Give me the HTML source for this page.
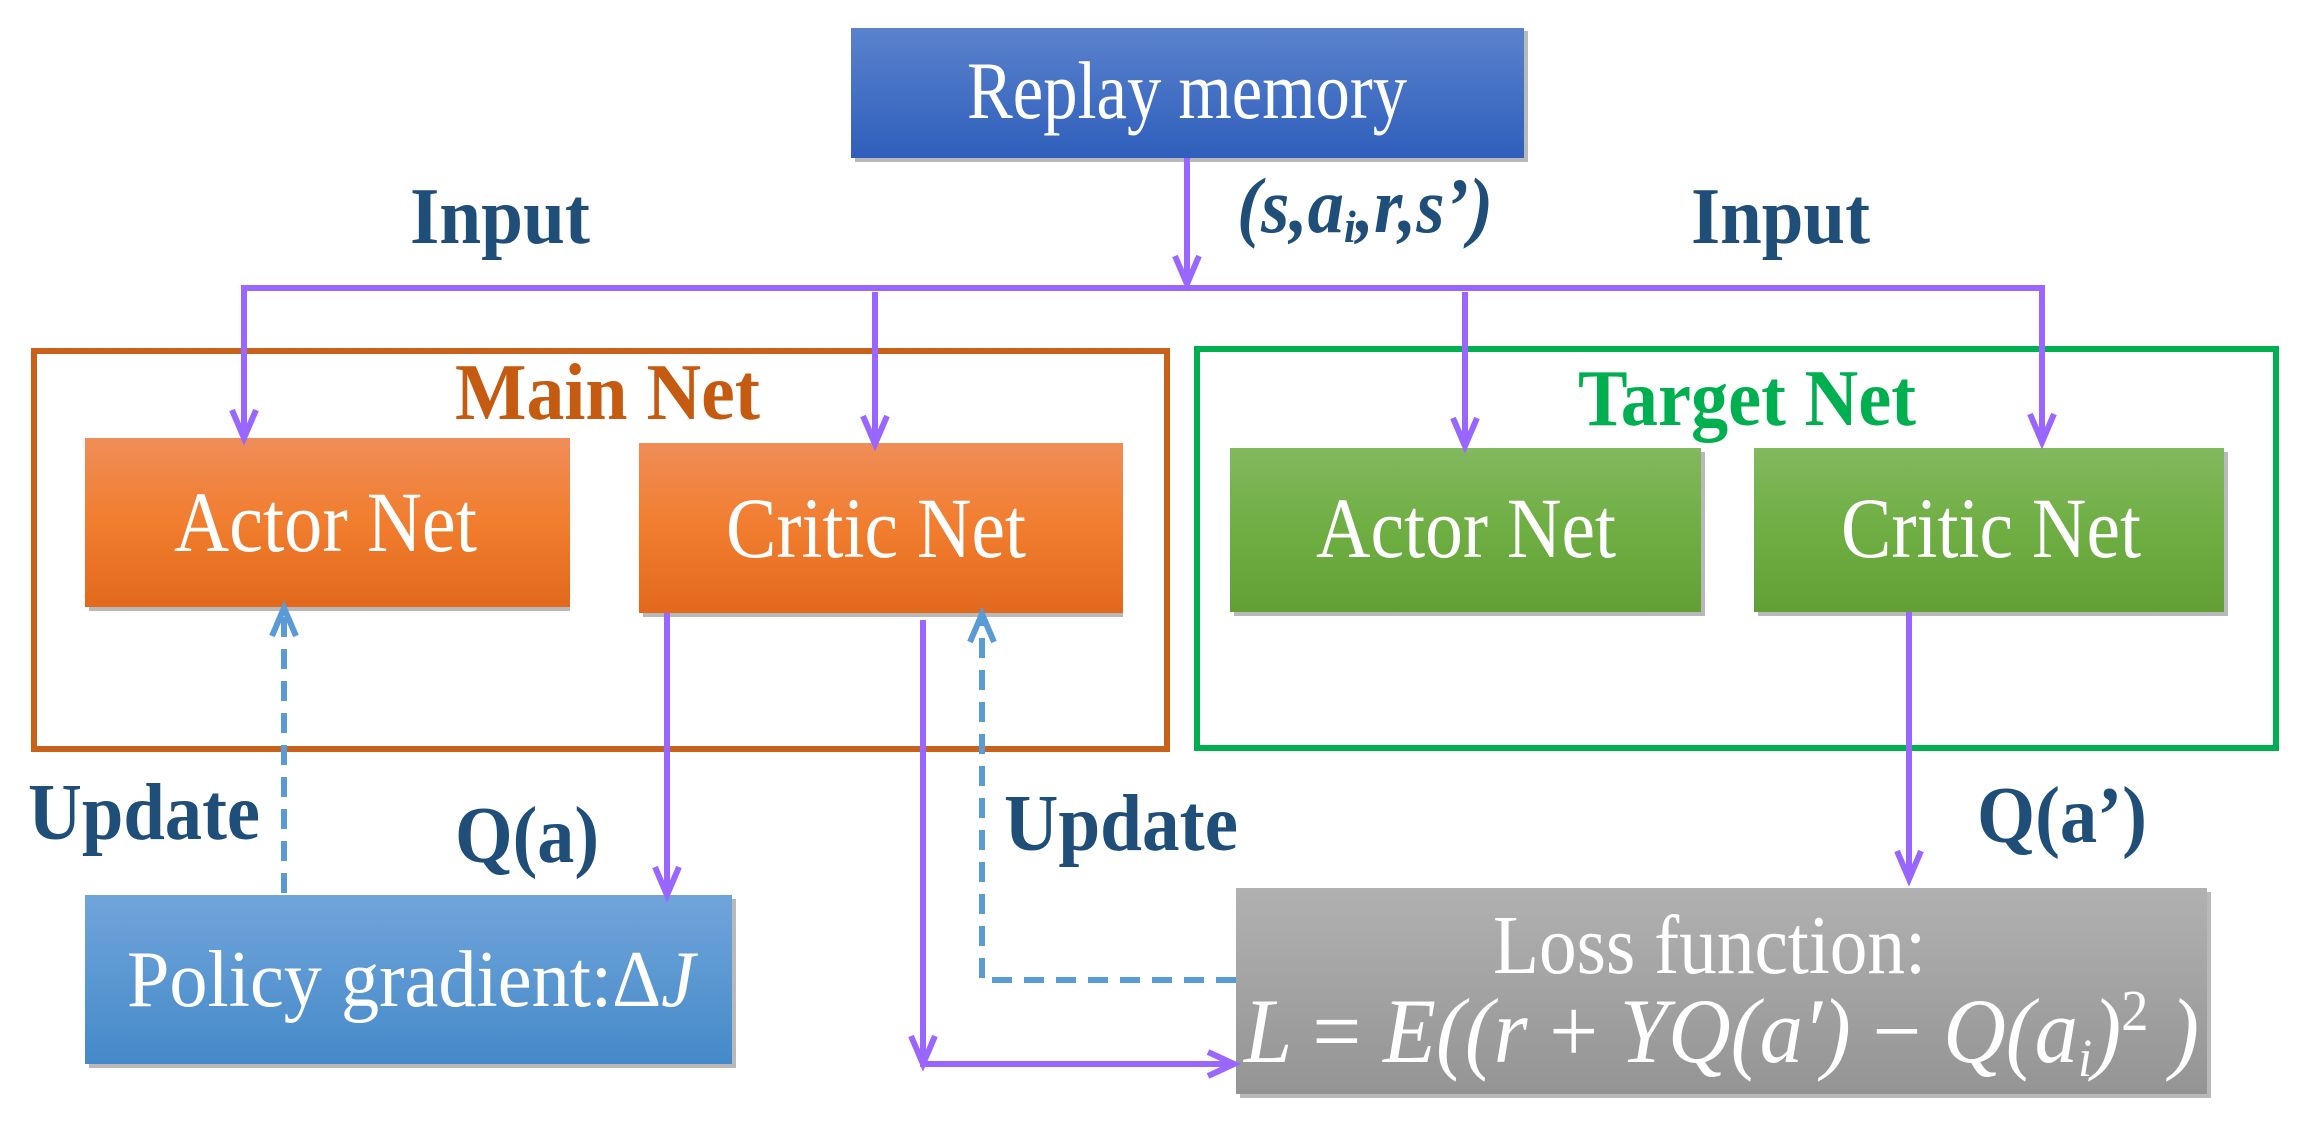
<!DOCTYPE html>
<html><head><meta charset="utf-8"><style>
html,body{margin:0;padding:0;background:#fff;}
svg{display:block;}
text{font-family:"Liberation Serif",serif;}
</style></head><body>
<svg width="2319" height="1128" viewBox="0 0 2319 1128" xmlns="http://www.w3.org/2000/svg">
<defs>
<linearGradient id="gb" x1="0" y1="0" x2="0" y2="1"><stop offset="0" stop-color="#5a82cd"/><stop offset="1" stop-color="#2f5fbb"/></linearGradient>
<linearGradient id="go" x1="0" y1="0" x2="0" y2="1"><stop offset="0" stop-color="#f08d58"/><stop offset="0.5" stop-color="#f17d2e"/><stop offset="1" stop-color="#e2691c"/></linearGradient>
<linearGradient id="gg" x1="0" y1="0" x2="0" y2="1"><stop offset="0" stop-color="#83b85f"/><stop offset="0.5" stop-color="#6eae42"/><stop offset="1" stop-color="#62a036"/></linearGradient>
<linearGradient id="gp" x1="0" y1="0" x2="0" y2="1"><stop offset="0" stop-color="#70a5da"/><stop offset="1" stop-color="#4589c9"/></linearGradient>
<linearGradient id="gl" x1="0" y1="0" x2="0" y2="1"><stop offset="0" stop-color="#b1b1b1"/><stop offset="1" stop-color="#949494"/></linearGradient>
</defs>
<g fill="#8a8a8a" opacity="0.6">
<rect x="855" y="31" width="673" height="131"/>
<rect x="89" y="442" width="481" height="169"/>
<rect x="643" y="447" width="480" height="170"/>
<rect x="1234" y="452" width="471" height="164"/>
<rect x="1758" y="452" width="470" height="164"/>
<rect x="89" y="899" width="647" height="169"/>
<rect x="1240" y="892" width="971" height="206"/>
</g>
<rect x="851" y="28" width="673" height="130" fill="url(#gb)"/>
<text x="1187" y="118" font-size="82" fill="#fff" text-anchor="middle" textLength="440" lengthAdjust="spacingAndGlyphs">Replay memory</text>

<rect x="34" y="351" width="1133" height="398" fill="none" stroke="#c8611a" stroke-width="6"/>
<rect x="1197" y="349" width="1079" height="399" fill="none" stroke="#00b050" stroke-width="6"/>

<rect x="85" y="438" width="485" height="169" fill="url(#go)"/>
<rect x="639" y="443" width="484" height="170" fill="url(#go)"/>
<rect x="1230" y="448" width="471" height="164" fill="url(#gg)"/>
<rect x="1754" y="448" width="470" height="164" fill="url(#gg)"/>
<rect x="85" y="895" width="647" height="169" fill="url(#gp)"/>
<rect x="1236" y="888" width="971" height="206" fill="url(#gl)"/>

<g fill="#fff" font-size="86">
<text x="174" y="551" textLength="303" lengthAdjust="spacingAndGlyphs">Actor Net</text>
<text x="726" y="557" textLength="300" lengthAdjust="spacingAndGlyphs">Critic Net</text>
<text x="1316" y="557" textLength="300" lengthAdjust="spacingAndGlyphs">Actor Net</text>
<text x="1841" y="557" textLength="300" lengthAdjust="spacingAndGlyphs">Critic Net</text>
<text x="127" y="1006" font-size="80" textLength="568" lengthAdjust="spacingAndGlyphs">Policy gradient:Δ<tspan font-style="italic">J</tspan></text>
<text x="1493" y="973" font-size="84" textLength="433" lengthAdjust="spacingAndGlyphs">Loss function:</text>
<text x="1244" y="1062" font-size="92" font-style="italic" textLength="955" lengthAdjust="spacingAndGlyphs">L <tspan font-style="normal">=</tspan> E((r <tspan font-style="normal">+</tspan> YQ(a′) <tspan font-style="normal">−</tspan> Q(a<tspan font-size="54" dy="14">i</tspan><tspan dy="-14">)</tspan><tspan font-style="normal" font-size="58" dy="-32">2</tspan><tspan dy="32"> )</tspan></text>
</g>

<g font-weight="bold" fill="#1f4e79" font-size="80">
<text x="410" y="243" textLength="180" lengthAdjust="spacingAndGlyphs">Input</text>
<text x="1691" y="243" textLength="179" lengthAdjust="spacingAndGlyphs">Input</text>
<text x="1237" y="232" font-style="italic" font-size="78" textLength="256" lengthAdjust="spacingAndGlyphs">(s,a<tspan font-size="46" dy="10">i</tspan><tspan dy="-10">,r,s’)</tspan></text>
<text x="28" y="839" textLength="232" lengthAdjust="spacingAndGlyphs">Update</text>
<text x="455" y="862" textLength="144" lengthAdjust="spacingAndGlyphs">Q(a)</text>
<text x="1004" y="850" textLength="234" lengthAdjust="spacingAndGlyphs">Update</text>
<text x="1977" y="842" textLength="170" lengthAdjust="spacingAndGlyphs">Q(a’)</text>
<text x="455" y="419" fill="#c55a11" textLength="305" lengthAdjust="spacingAndGlyphs">Main Net</text>
<text x="1578" y="425" fill="#00b050" textLength="338" lengthAdjust="spacingAndGlyphs">Target Net</text>
</g>

<g stroke="#9966ff" stroke-width="6" fill="none" stroke-linejoin="miter">
<line x1="1187" y1="158" x2="1187" y2="284"/>
<polyline points="244,440 244,288 2042,288 2042,440"/>
<line x1="875" y1="292" x2="875" y2="443"/>
<line x1="1465" y1="292" x2="1465" y2="445"/>
<line x1="667" y1="613" x2="667" y2="893"/>
<line x1="1909" y1="612" x2="1909" y2="877"/>
<polyline points="923,620 923,1064 1232,1064"/>
</g>
<g stroke="#9966ff" stroke-width="6" fill="none">
<polyline points="1175,256 1187,284 1199,256"/>
<polyline points="232,410 244,438 256,410"/>
<polyline points="863,416 875,444 887,416"/>
<polyline points="1453,418 1465,446 1477,418"/>
<polyline points="2030,414 2042,442 2054,414"/>
<polyline points="655,867 667,895 679,867"/>
<polyline points="1897,851 1909,879 1921,851"/>
<polyline points="911,1036 923,1064 935,1036"/>
<polyline points="1208,1052 1234,1064 1208,1076"/>
</g>
<g stroke="#5b9bd5" stroke-width="6" fill="none" stroke-dasharray="20,12">
<line x1="284" y1="893" x2="284" y2="612"/>
<polyline points="1236,980 982,980 982,618"/>
</g>
<g stroke="#5b9bd5" stroke-width="6" fill="none">
<polyline points="272,636 284,608 296,636"/>
<polyline points="970,642 982,614 994,642"/>
</g>
</svg>
</body></html>
